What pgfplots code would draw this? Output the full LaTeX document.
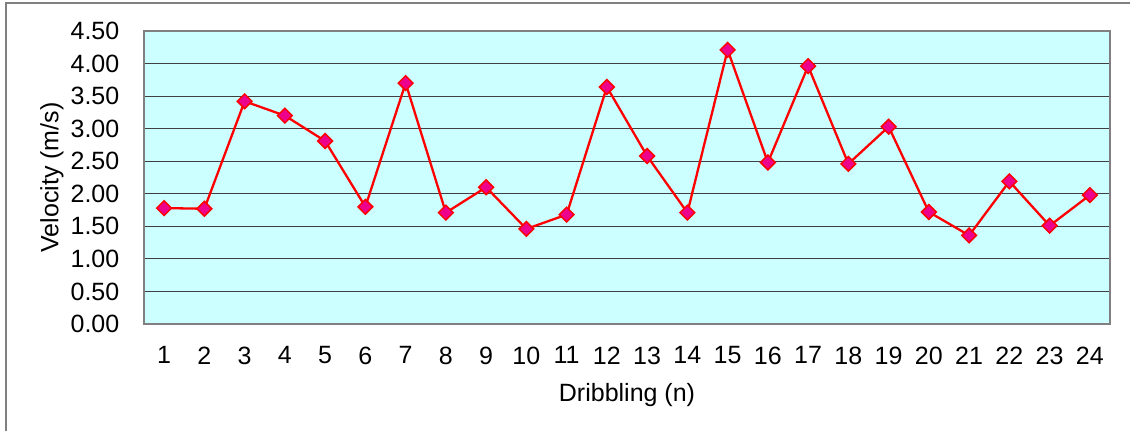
\documentclass[border=0pt]{standalone}
\usepackage{pgfplots}
\pgfplotsset{compat=1.18}
\usepackage{fontspec}
\setmainfont{Liberation Sans}
\definecolor{bgc}{HTML}{CCFFFF}
\definecolor{gridc}{HTML}{404040}
\definecolor{framec}{HTML}{808080}
\begin{document}
\fontsize{12.5}{14}\selectfont
\begin{tikzpicture}
\useasboundingbox (0pt,0pt) rectangle (565pt,215.5pt);
\draw[framec,line width=0.6pt] (3pt,0pt) -- (3pt,214pt) -- (565pt,214pt);
\begin{axis}[
  at={(72pt,53.5pt)}, anchor=south west,
  width=483pt, height=146.5pt, scale only axis,
  xmin=0.5, xmax=24.5, ymin=0, ymax=4.5,
  xtick={1,...,24}, ytick={0,0.5,...,4.5},
  major tick length=0pt,
  axis background/.style={fill=bgc},
  axis line style={framec,line width=1pt},
  ymajorgrids, grid style={gridc,line width=0.6pt},
  /pgf/number format/assume math mode=true,
  yticklabel style={/pgf/number format/fixed,/pgf/number format/fixed zerofill,/pgf/number format/precision=2,xshift=-8pt},
  xticklabel style={yshift=-7pt},
  font=\fontsize{12.5}{14}\selectfont,
  tick label style={font=\fontsize{12.5}{14}\selectfont},
  xlabel={Dribbling (n)}, ylabel={Velocity (m/s)},
  xlabel style={yshift=-1pt},
  ylabel style={yshift=-5pt},
]
\addplot[red, line width=1.15pt, mark=square*, mark size=2.6pt,
  mark options={rotate=45, fill=magenta, draw=red, line width=0.75pt}]
coordinates {
(1,1.78) (2,1.77) (3,3.42) (4,3.20) (5,2.81) (6,1.80) (7,3.70) (8,1.71)
(9,2.10) (10,1.46) (11,1.68) (12,3.64) (13,2.58) (14,1.71) (15,4.21) (16,2.48)
(17,3.96) (18,2.46) (19,3.03) (20,1.72) (21,1.36) (22,2.19) (23,1.51) (24,1.98)
};
\end{axis}
\end{tikzpicture}
\end{document}
